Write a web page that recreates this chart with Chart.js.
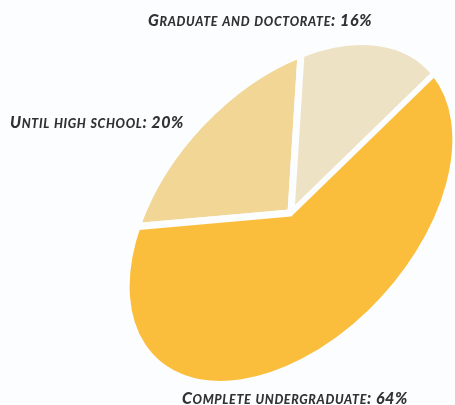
<!DOCTYPE html>
<html>
<head>
<meta charset="utf-8">
<script src="https://cdn.jsdelivr.net/npm/chart.js@4/dist/chart.umd.min.js"></script>
<style>
    html, body { margin: 0; padding: 0; background: #fcfdfe; }
    #wrap { position: relative; width: 455px; height: 405px; overflow: hidden; }
    #chart { position: absolute; left: 0; top: 0; }
    .label {
        position: absolute;
        white-space: nowrap;
        font-family: Lato, 'Open Sans', sans-serif;
        font-style: italic;
        font-weight: 900;
        font-size: 16px;
        line-height: 1;
        color: #323232;
    }
    .label .sc { font-size: 0.78em; }
</style>
</head>
<body>
<div id="wrap">
    <canvas id="chart" width="455" height="405"></canvas>
</div>
<script>
// Escolaridade - pizza inclinada (elipse)
const categorias = ['Until high school', 'Graduate and doctorate', 'Complete undergraduate'];
const percentuais = [20, 16, 64];
const cores = ['#f2d696', '#eee2c4', '#fabe3c'];

// rótulos: esquerda, topo e largura total em px
const posRotulos = [[10, 114, 174], [148, 12, 224], [182, 390, 226]];

// forma da elipse: inclinação do eixo maior e semi-eixos em px
const INCLINACAO = -47.6;
const EIXO_MAIOR = 202;
const EIXO_MENOR = 126;

// deforma o círculo do gráfico numa elipse girada
const pizzaInclinada = {
    id: 'pizzaInclinada',
    beforeDatasetsDraw(chart) {
        const arc = chart.getDatasetMeta(0).data[0];
        if (!arc) return;
        const ctx = chart.ctx;
        const r = arc.outerRadius;
        const t = INCLINACAO * Math.PI / 180;
        const cos = Math.cos(t), sin = Math.sin(t);
        ctx.save();
        ctx.translate(arc.x, arc.y);
        ctx.transform(cos * EIXO_MAIOR / r, sin * EIXO_MAIOR / r, -sin * EIXO_MENOR / r, cos * EIXO_MENOR / r, 0, 0);
        ctx.translate(-arc.x, -arc.y);
    },
    afterDatasetsDraw(chart) {
        chart.ctx.restore();
    }
};

new Chart(document.getElementById('chart'), {
    type: 'pie',
    data: {
        labels: categorias,
        datasets: [{
            data: percentuais,
            backgroundColor: cores,
            borderColor: '#fcfdfe',
            borderWidth: 7,
            borderJoinStyle: 'miter',
            clip: false
        }]
    },
    options: {
        responsive: false,
        animation: false,
        devicePixelRatio: 1,
        rotation: -34.2,
        layout: { padding: { left: 127, right: 0, top: 21, bottom: 0 } },
        plugins: {
            legend: { display: false },
            tooltip: { enabled: false }
        }
    },
    plugins: [pizzaInclinada]
});

// versaletes: minúsculas viram maiúsculas menores
function versalete(texto) {
    return texto.replace(/[a-z]+/g, m => '<span class="sc">' + m.toUpperCase() + '</span>');
}

// rótulos com nome e percentual
const wrap = document.getElementById('wrap');
categorias.forEach((nome, i) => {
    const el = document.createElement('div');
    const texto = nome + ': ' + percentuais[i] + '%';
    el.className = 'label';
    el.innerHTML = versalete(texto);
    el.style.left = posRotulos[i][0] + 'px';
    el.style.top = posRotulos[i][1] + 'px';
    wrap.appendChild(el);
    const largura = el.getBoundingClientRect().width;
    el.style.letterSpacing = ((posRotulos[i][2] - largura) / texto.length).toFixed(2) + 'px';
});
</script>
</body>
</html>
